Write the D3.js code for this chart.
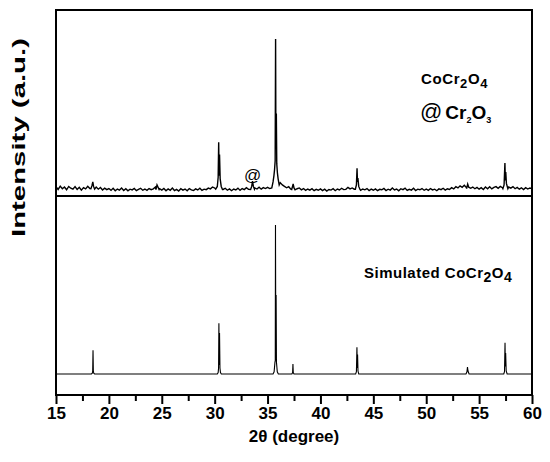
<!DOCTYPE html>
<html>
<head>
<meta charset="utf-8">
<script src="https://cdn.jsdelivr.net/npm/d3@7"></script>
<style>
  body { margin: 0; background: #fff; }
  svg { display: block; }
  text { font-family: "Liberation Sans", Arial, sans-serif; fill: #000; }
</style>
</head>
<body>
<div id="chart"></div>
<script>
// 2theta grid of the measured background (start, step)
const bgStart = 15;
const bgStep = 0.2;

// measured pattern: background noise, one value per 0.2 deg from 15 to 60
const expBackground = [
  2.8, 1.0, 3.2, 1.5, 2.6, 0.8, 3.0, 1.8, 1.2, 2.9, 1.0, 2.4, 0.6, 2.2, 1.4, 3.1, 1.6, 2.0, 3.4, 2.6, 1.2, 2.3, 0.7, 1.9, 0.9,
  1.6, 0.4, 1.8, 0.2, 1.3, 0.6, 1.9, 0.3, 1.5, 0.1, 1.2, 0.7, 1.7, 0.2, 1.0, 1.8, 0.5, 1.3, 0.4, 1.6, 0.9, 1.4, 2.6, 3.0, 1.5,
  0.6, 1.7, 0.2, 1.4, 0.5, 1.9, 0.3, 1.1, 0.0, 1.5, 0.6, 1.3, 0.2, 1.6, 0.8, 0.3, 1.4, 0.7, 1.8, 0.4, 1.2, 0.9, 1.9, 1.4, 2.6,
  2.0, 2.8, 1.6, 2.2, 1.0, 1.8, 0.5, 1.4, 0.2, 1.3, 0.7, 1.9, 0.4, 1.6, 0.9, 2.2, 1.1, 1.8, 0.8, 2.0, 1.3, 2.5, 1.2, 2.2, 1.6,
  2.4, 1.6, 3.0, 2.2, 3.4, 4.5, 5.5, 4.0, 3.0, 2.1, 2.8, 1.2, 2.4, 3.2, 1.5, 2.0, 0.8, 1.6, 0.4, 1.3, 0.6, 1.5, 0.2, 1.1, 0.5,
  1.4, 0.3, 1.2, 0.0, 1.0, 0.6, 1.5, 0.2, 1.3, 0.7, 1.8, 0.9, 1.1, 2.4, 1.4, 2.0, 1.2, 0.6, 1.7, 0.4, 1.3, 0.8, 1.6, 0.3, 1.2,
  0.5, 1.4, 0.2, 1.1, 0.8, 1.7, 0.3, 1.2, 0.6, 2.0, 0.7, 1.3, 0.1, 1.5, 0.9, 1.9, 0.4, 1.1, 0.6, 1.8, 0.3, 1.2, 0.8, 1.6, 0.5,
  1.3, 0.4, 1.6, 0.7, 1.2, 0.2, 1.4, 0.9, 1.8, 0.6, 1.5, 1.0, 2.2, 1.4, 2.8, 2.0, 3.4, 2.4, 3.8, 2.2, 3.2, 1.8, 2.6, 1.5, 2.4,
  1.2, 2.2, 1.0, 2.6, 1.5, 2.8, 1.4, 2.4, 2.9, 1.8, 3.0, 2.2, 3.3, 2.0, 2.6, 1.9, 2.9, 1.5, 2.4, 1.2, 2.1, 1.0, 2.2, 1.3, 2.0,
  1.6
];

// measured pattern: reflections as [2theta, intensity] points
const expPeaks = [
  [[18.30, 1.5], [18.40, 3.5], [18.48, 6.0], [18.55, 3.0], [18.65, 1.2]],
  [[24.45, 1.0], [24.55, 4.0], [24.65, 2.5], [24.75, 1.0]],
  [[30.10, 1.2], [30.25, 3.0], [30.33, 9.0], [30.38, 32.0], [30.42, 10.0], [30.46, 24.0], [30.52, 8.0], [30.62, 3.0], [30.74, 1.0]],
  [[33.40, 1.0], [33.50, 3.0], [33.58, 6.5], [33.66, 3.0], [33.76, 1.2]],
  [[35.40, 2.0], [35.52, 6.0], [35.60, 10.0], [35.66, 14.0], [35.72, 20.0], [35.76, 100.0], [35.79, 28.0], [35.83, 51.0], [35.87, 18.0], [35.93, 12.0], [36.00, 8.0], [36.10, 4.0]],
  [[37.28, 1.0], [37.36, 3.0], [37.42, 4.6], [37.50, 2.0], [37.60, 0.8]],
  [[43.30, 1.2], [43.40, 4.0], [43.46, 15.0], [43.50, 6.0], [43.54, 8.5], [43.62, 3.0], [43.74, 1.0]],
  [[53.82, 1.5], [53.92, 4.6], [54.02, 2.5]],
  [[57.25, 1.5], [57.36, 4.0], [57.44, 18.4], [57.48, 7.0], [57.52, 12.5], [57.58, 5.0], [57.72, 1.5]]
];

// simulated pattern as [2theta, intensity] points (flat baseline between)
const simPattern = [
  [15, 0],
  [18.35, 0], [18.43, 0.5], [18.47, 2], [18.50, 16], [18.53, 2], [18.57, 0.5], [18.65, 0],
  [30.25, 0], [30.33, 1], [30.37, 4], [30.40, 34], [30.43, 6], [30.46, 27.5], [30.50, 4], [30.55, 1], [30.63, 0],
  [35.52, 0], [35.62, 1.5], [35.70, 8], [35.73, 9], [35.75, 100], [35.78, 9], [35.81, 53], [35.84, 8], [35.92, 1.5], [36.02, 0],
  [37.30, 0], [37.37, 1], [37.40, 6.7], [37.43, 1], [37.50, 0],
  [43.33, 0], [43.40, 1.5], [43.45, 18], [43.48, 4], [43.51, 13], [43.55, 2], [43.62, 0],
  [53.76, 0], [53.85, 1.5], [53.90, 4.7], [53.95, 2], [54.05, 0],
  [57.33, 0], [57.40, 1.5], [57.45, 21], [57.48, 5], [57.51, 14], [57.56, 2], [57.65, 0],
  [60, 0]
];

const xTicks = [15, 20, 25, 30, 35, 40, 45, 50, 55, 60];
const xMinorTicks = [17.5, 22.5, 27.5, 32.5, 37.5, 42.5, 47.5, 52.5, 57.5];

const width = 550, height = 462;
const plotL = 56, plotR = 532, plotT = 10, plotB = 395, divider = 196;

const svg = d3.select("#chart").append("svg")
  .attr("width", width)
  .attr("height", height);

const x = d3.scaleLinear().domain([15, 60]).range([plotL, plotR]);
const yTop = d3.scaleLinear().domain([0, 100]).range([191, 39]);
const yBot = d3.scaleLinear().domain([0, 100]).range([374, 225]);

// merge background with reflections (reflection points replace background there)
const bgPoints = expBackground.map((v, i) => [bgStart + i * bgStep, v]);
const expPoints = bgPoints
  .filter(p => !expPeaks.some(pk => p[0] >= pk[0][0] && p[0] <= pk[pk.length - 1][0]))
  .concat(expPeaks.flat())
  .sort((a, b) => a[0] - b[0]);

svg.append("path")
  .datum(expPoints)
  .attr("fill", "none")
  .attr("stroke", "#000")
  .attr("stroke-width", 1.4)
  .attr("d", d3.line().x(d => x(d[0])).y(d => yTop(d[1])));

svg.append("path")
  .datum(simPattern)
  .attr("fill", "none")
  .attr("stroke", "#000")
  .attr("stroke-width", 1.1)
  .attr("d", d3.line().x(d => x(d[0])).y(d => yBot(d[1])));

// frame and divider
svg.append("rect")
  .attr("x", plotL).attr("y", plotT)
  .attr("width", plotR - plotL).attr("height", plotB - plotT)
  .attr("fill", "none").attr("stroke", "#000").attr("stroke-width", 2);

svg.append("line")
  .attr("x1", plotL).attr("x2", plotR)
  .attr("y1", divider).attr("y2", divider)
  .attr("stroke", "#000").attr("stroke-width", 2);

// bottom axis
const axis = svg.append("g").attr("transform", `translate(0,${plotB})`);
axis.append("g")
  .call(d3.axisBottom(x).tickValues(xMinorTicks).tickSize(6).tickFormat(""))
  .call(g => g.select(".domain").remove())
  .call(g => g.selectAll("line").attr("stroke-width", 2));
axis.append("g")
  .call(d3.axisBottom(x).tickValues(xTicks).tickSize(9).tickPadding(3).tickFormat(d3.format("d")))
  .call(g => g.select(".domain").remove())
  .call(g => g.selectAll("line").attr("stroke-width", 2))
  .call(g => g.selectAll("text")
    .style("font-size", "17px")
    .style("font-weight", "bold")
    .attr("fill", "#000"));

svg.append("text")
  .attr("x", (plotL + plotR) / 2)
  .attr("y", 442)
  .attr("text-anchor", "middle")
  .style("font-size", "17px")
  .style("font-weight", "bold")
  .text("2\u03b8 (degree)");

svg.append("text")
  .attr("transform", "translate(25,137.5) rotate(-90)")
  .attr("text-anchor", "middle")
  .attr("textLength", 199)
  .attr("lengthAdjust", "spacingAndGlyphs")
  .style("font-size", "19px")
  .style("font-weight", "bold")
  .text("Intensity (a.u.)");

// labels
const lab1 = svg.append("text")
  .attr("x", 421).attr("y", 84)
  .style("font-size", "15px")
  .style("font-weight", "bold")
  .style("letter-spacing", "0.6px");
lab1.append("tspan").text("CoCr");
lab1.append("tspan").attr("dy", 4).style("font-size", "13px").text("2");
lab1.append("tspan").attr("dy", -4).text("O");
lab1.append("tspan").attr("dy", 4).style("font-size", "13px").text("4");

const lab2 = svg.append("text")
  .attr("x", 420).attr("y", 119)
  .style("font-size", "19px")
  .style("font-weight", "bold");
lab2.append("tspan").style("font-weight", "normal").style("font-size", "22px").text("@");
lab2.append("tspan").attr("dx", 3).text("Cr");
lab2.append("tspan").attr("dy", 4).style("font-size", "9px").text("2");
lab2.append("tspan").attr("dy", -4).text("O");
lab2.append("tspan").attr("dy", 4).style("font-size", "9px").text("3");

svg.append("text")
  .attr("x", x(33.58)).attr("y", 181)
  .attr("text-anchor", "middle")
  .style("font-size", "17px")
  .text("@");

const lab3 = svg.append("text")
  .attr("x", 364).attr("y", 278)
  .style("font-size", "15px")
  .style("font-weight", "bold")
  .style("letter-spacing", "0.5px");
lab3.append("tspan").text("Simulated CoCr");
lab3.append("tspan").attr("dy", 4).style("font-size", "14px").text("2");
lab3.append("tspan").attr("dy", -4).text("O");
lab3.append("tspan").attr("dy", 4).style("font-size", "14px").text("4");
</script>
</body>
</html>
